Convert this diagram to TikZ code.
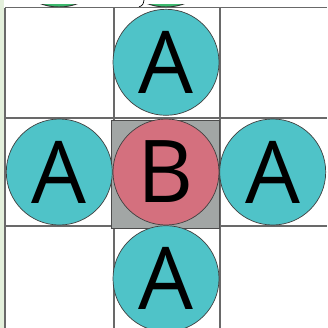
\documentclass[tikz,border=0pt]{standalone}
\usepackage{fontspec}
\setsansfont{Open Sans}
\usepackage{xcolor}
\usetikzlibrary{positioning}
\definecolor{ionteal}{RGB}{79,195,200}
\definecolor{ionpink}{RGB}{212,112,126}
\definecolor{ionleaf}{RGB}{60,185,110}
\definecolor{cellgray}{RGB}{162,166,165}
\definecolor{gridgray}{RGB}{105,105,105}
\definecolor{edgetint}{RGB}{228,240,220}
\tikzset{
  ion/.style={circle, draw=black!75, line width=0.6pt, inner sep=0pt, minimum size=3.18cm, font=\sffamily\fontsize{74}{74}\selectfont},
  ionA/.style={ion, fill=ionteal},
  ionB/.style={ion, fill=ionpink},
  cell/.style={rectangle, draw=black!70, line width=0.8pt, fill=cellgray, inner sep=0pt, minimum size=3.24cm},
  gridline/.style={draw=gridgray, line width=1pt},
}
\begin{document}
\begin{tikzpicture}[x=0.03cm, y=-0.03cm]
    \useasboundingbox (0,0) rectangle (327,328);
    \clip (0,0) rectangle (327,328);
    \fill[edgetint] (0,0) rectangle (4,328);
    % cut-off row above
    \begin{scope}
      \clip (0,4) rectangle (327,9);
      \draw[fill=ionleaf, draw=black!80, line width=0.8pt] (59,-46) circle (53);
      \draw[fill=ionleaf, draw=black!80, line width=0.8pt] (166,-46) circle (53);
    \end{scope}
    \draw[black, line width=0.6pt] (144,0) .. controls (143,5) .. (139,7);
    % grid
    \draw[gridline] (5,7.5) -- (5,328);
    \draw[gridline] (114,7.5) -- (114,328);
    \draw[gridline] (220,7.5) -- (220,328);
    \draw[gridline] (5,7.5) -- (327,7.5);
    \draw[gridline] (5,118) -- (327,118);
    \draw[gridline] (5,226) -- (327,226);
    % central cell and ions
    \node[cell] (sq) at (165,174) {};
    \node[ionB] (b) at (166,172) {B};
    \node[ionA, above=0.09cm of b] (a1) {A};
    \node[ionA, left=0pt of b] (a2) {A};
    \node[ionA, right=0pt of b] (a3) {A};
    \node[ionA, below=0pt of b] (a4) {A};
\end{tikzpicture}
\end{document}
